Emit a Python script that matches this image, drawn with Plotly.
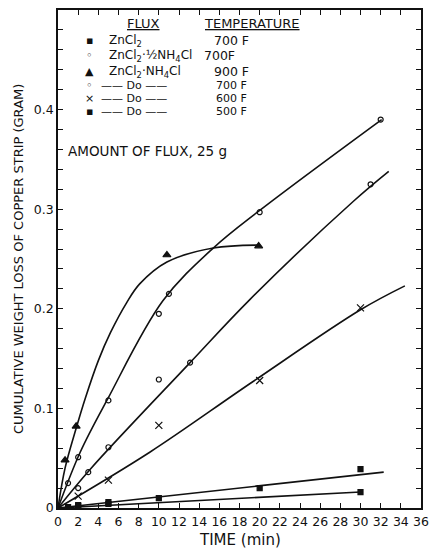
import plotly.graph_objects as go

# ---- data ----
# ZnCl2, 700 F (filled square)
t_zn700 = [1, 2, 5, 30]
w_zn700 = [0.001, 0.002, 0.004, 0.016]
line_t_zn700 = [0, 30]
line_w_zn700 = [0, 0.016]

# ZnCl2.1/2NH4Cl, 700 F (open circle)
t_half700 = [1, 2, 5, 10, 11, 20, 32]
w_half700 = [0.025, 0.051, 0.108, 0.195, 0.215, 0.297, 0.390]
line_t_half700 = [0, 2.2, 4.9, 10.4, 15.4, 19.9, 32.1]
line_w_half700 = [0, 0.056, 0.109, 0.208, 0.261, 0.298, 0.390]

# ZnCl2.NH4Cl, 900 F (filled triangle)
t_nh900 = [0.7, 1.8, 10.8, 19.9]
w_nh900 = [0.048, 0.082, 0.254, 0.263]
line_t_nh900 = [0, 0.7, 1.8, 2.7, 4, 5.2, 6.8, 8.1, 10.8, 15.4, 19.9]
line_w_nh900 = [0, 0.040, 0.080, 0.110, 0.148, 0.176, 0.206, 0.225, 0.247, 0.261, 0.264]

# Do, 700 F (small open circle)
t_do700 = [2, 3, 5, 10, 13.1, 31]
w_do700 = [0.020, 0.036, 0.061, 0.129, 0.146, 0.325]
line_t_do700 = [0, 3.2, 13.1, 19, 29.3, 32.8]
line_w_do700 = [0, 0.039, 0.146, 0.209, 0.308, 0.338]

# Do, 600 F (cross)
t_do600 = [2, 5, 10, 20, 30]
w_do600 = [0.012, 0.028, 0.083, 0.128, 0.201]
line_t_do600 = [0, 9.1, 19.2, 30, 34.4]
line_w_do600 = [0, 0.056, 0.126, 0.199, 0.223]

# Do, 500 F (filled square)
t_do500 = [2, 5, 10, 20, 30]
w_do500 = [0.003, 0.006, 0.010, 0.020, 0.039]
line_t_do500 = [0, 32.3]
line_w_do500 = [0, 0.036]

x_ticks = list(range(0, 37, 2))
y_ticks = [0, 0.1, 0.2, 0.3, 0.4]
y_ticktext = ["0", "0.1", "0.2", "0.3", "0.4"]

FONT = "DejaVu Sans"
BLACK = "#111111"

fig = go.Figure()

def add_series(lt, lw, t, w, symbol, size, shape="spline"):
    fig.add_trace(go.Scatter(x=lt, y=lw, mode="lines",
                             line=dict(color=BLACK, width=1.6, shape=shape, smoothing=1.0),
                             showlegend=False, hoverinfo="skip"))
    fig.add_trace(go.Scatter(x=t, y=w, mode="markers",
                             marker=dict(symbol=symbol, size=size, color=BLACK,
                                         line=dict(color=BLACK, width=1.2)),
                             showlegend=False))

add_series(line_t_zn700, line_w_zn700, t_zn700, w_zn700, "square", 5, "linear")
add_series(line_t_do500, line_w_do500, t_do500, w_do500, "square", 5, "linear")
add_series(line_t_do600, line_w_do600, t_do600, w_do600, "x-thin", 7)
add_series(line_t_do700, line_w_do700, t_do700, w_do700, "circle-open", 5)
add_series(line_t_half700, line_w_half700, t_half700, w_half700, "circle-open", 5)
add_series(line_t_nh900, line_w_nh900, t_nh900, w_nh900, "triangle-up", 7)

# plot area in pixels: left 58, right 421, top 8, bottom 508
L, R, T, B = 58, 421, 8, 508
def px(x):
    return (x - L) / (R - L)
def py(y):
    return (B - y) / (B - T)

ann = []
def txt(x, y, s, size=13, xanchor="left"):
    ann.append(dict(x=px(x), y=py(y), xref="paper", yref="paper", text=s,
                    showarrow=False, xanchor=xanchor, yanchor="middle", borderpad=0,
                    font=dict(family=FONT, size=size, color=BLACK)))

txt(143, 22, "<u>FLUX</u>", 13, "center")
txt(252, 22, "<u>TEMPERATURE</u>", 13, "center")
rows = [
    (39, "▪", "ZnCl<sub>2</sub>", 213, "700 F", 12.5),
    (54, "◦", "ZnCl<sub>2</sub>·½NH<sub>4</sub>Cl", 203, "700F", 12.5),
    (70, "▲", "ZnCl<sub>2</sub>·NH<sub>4</sub>Cl", 213, "900 F", 12.5),
    (84, "◦", "—— Do ——", 215, "700 F", 11),
    (97, "×", "—— Do ——", 215, "600 F", 11),
    (110, "▪", "—— Do ——", 215, "500 F", 11),
]
for y, sym, flux, tx, temp, fs in rows:
    txt(89, y, sym, 11, "center")
    if flux.startswith("——"):
        txt(100, y, flux, fs)
    else:
        txt(108, y, flux, 12)
    txt(tx, y, temp, fs)

txt(67, 150, "AMOUNT OF FLUX, 25 g", 13.5)

ann.append(dict(x=px(18), y=0.5, xref="paper", yref="paper",
                text="CUMULATIVE WEIGHT LOSS OF COPPER STRIP (GRAM)",
                textangle=-90, showarrow=False, xanchor="center", yanchor="middle",
                font=dict(family=FONT, size=13, color=BLACK)))
ann.append(dict(x=0.5, y=py(540), xref="paper", yref="paper", text="TIME (min)",
                showarrow=False, xanchor="center", yanchor="middle", borderpad=0,
                font=dict(family=FONT, size=15, color=BLACK)))

fig.update_layout(
    width=443, height=549,
    margin=dict(l=L, r=443 - R, t=T, b=549 - B),
    paper_bgcolor="white", plot_bgcolor="white",
    annotations=ann,
    font=dict(family=FONT, color=BLACK),
    xaxis=dict(range=[0, 36], tickvals=x_ticks, ticktext=[str(v) for v in x_ticks],
               ticks="inside", ticklen=5, tickwidth=1.2, tickcolor=BLACK,
               showline=True, linecolor=BLACK, linewidth=1.8, mirror="ticks",
               showgrid=False, zeroline=False, tickfont=dict(size=12.5, family=FONT),
               ticklabelstandoff=1),
    yaxis=dict(range=[0, 0.5], tickvals=y_ticks, ticktext=y_ticktext,
               ticks="inside", ticklen=5, tickwidth=1.2, tickcolor=BLACK,
               minor=dict(ticks="inside", ticklen=5, tickwidth=1.2, tickcolor=BLACK,
                          dtick=0.02, tick0=0, showgrid=False),
               showline=True, linecolor=BLACK, linewidth=1.8, mirror="ticks",
               showgrid=False, zeroline=False, tickfont=dict(size=12.5, family=FONT)),
)

fig.write_html("out.html")
